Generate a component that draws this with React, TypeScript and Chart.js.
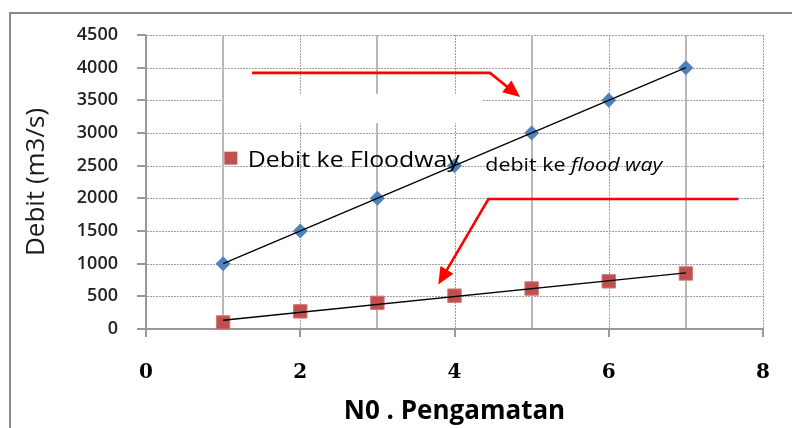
import React, { useEffect, useRef } from 'react';
import { Chart, registerables } from 'chart.js';

Chart.register(...registerables);

// ---------- data ----------
const observations = [1, 2, 3, 4, 5, 6, 7];
const debitTotal = [1000, 1500, 2000, 2500, 3000, 3500, 4000];
const debitFloodway = [100, 270, 400, 510, 620, 730, 850];
const seriesNames = ['Debit', 'Debit ke Floodway'];
const xTickValues = [0, 2, 4, 6, 8];
const xGridValues = [1, 2, 3, 4, 5, 6, 7, 8];
const yTickValues = [0, 500, 1000, 1500, 2000, 2500, 3000, 3500, 4000, 4500];
const xTitle = 'N0 . Pengamatan';
const yTitle = 'Debit (m3/s)';
const notePlain = 'debit ke ';
const noteItalic = 'flood way';

// annotations in data coordinates
const arrowUpper = [{ x: 1.375, y: 3920 }, { x: 4.46, y: 3920 }, { x: 4.85, y: 3550 }];
const arrowLower = [{ x: 7.68, y: 1990 }, { x: 4.44, y: 1990 }, { x: 3.79, y: 680 }];
const maskBox = { x0: 1.02, x1: 4.36, y0: 3150, y1: 3600 };
const legendAnchor = { x: 1.1, y: 2615, textX: 1.32, textY: 2480 };
const noteAnchor = { x: 4.4, y: 2420 };

// ---------- helpers ----------
function linearFit(xs: number[], ys: number[]) {
  const n = xs.length;
  const mx = xs.reduce((a, b) => a + b, 0) / n;
  const my = ys.reduce((a, b) => a + b, 0) / n;
  let sxy = 0;
  let sxx = 0;
  for (let i = 0; i < n; i++) {
    sxy += (xs[i] - mx) * (ys[i] - my);
    sxx += (xs[i] - mx) * (xs[i] - mx);
  }
  const slope = sxy / sxx;
  const icpt = my - slope * mx;
  const x0 = xs[0];
  const x1 = xs[n - 1];
  return [
    { x: x0, y: icpt + slope * x0 },
    { x: x1, y: icpt + slope * x1 },
  ];
}

function toPoints(xs: number[], ys: number[]) {
  return xs.map((x, i) => ({ x, y: ys[i] }));
}

const GRID = '#a0a0a0';
const SOLID_GRID = '#b8b8b8';
const AXIS = '#999999';
const RED_ARROW = '#ff0000';

function dottedH(ctx: CanvasRenderingContext2D, x0: number, x1: number, y: number) {
  for (let x = x0; x < x1; x += 3) ctx.fillRect(x, y, Math.min(2, x1 - x), 1);
}
function dottedV(ctx: CanvasRenderingContext2D, x: number, y0: number, y1: number) {
  for (let y = y0; y < y1; y += 3) ctx.fillRect(x, y, 1, Math.min(2, y1 - y));
}

const decorPlugin = {
  id: 'decor',
  beforeDraw(chart: any) {
    const ctx = chart.ctx;
    const xs = chart.scales.x;
    const ys = chart.scales.y;
    const ca = chart.chartArea;
    const left = Math.round(ca.left);
    const right = Math.round(ca.right);
    const top = Math.round(ca.top);
    const bottom = Math.round(ca.bottom);
    ctx.save();
    // outer frame
    ctx.fillStyle = '#888888';
    ctx.fillRect(9, 12, 800, 2);
    ctx.fillRect(9, 12, 2, 440);
    // horizontal dotted grid
    ctx.fillStyle = GRID;
    yTickValues.forEach((v) => {
      if (v === 0) return;
      const y = Math.round(ys.getPixelForValue(v));
      dottedH(ctx, left + 1, right + 1, y);
    });
    // vertical grid: odd solid, even dotted
    xGridValues.forEach((v) => {
      const x = Math.round(xs.getPixelForValue(v));
      if (v % 2 === 0) {
        ctx.fillStyle = GRID;
        dottedV(ctx, x, top, bottom);
      } else {
        ctx.fillStyle = SOLID_GRID;
        ctx.fillRect(x - 1, top, 2, bottom - top);
      }
    });
    // mask box (white text box covering grid)
    const mx0 = xs.getPixelForValue(maskBox.x0);
    const mx1 = xs.getPixelForValue(maskBox.x1);
    const my0 = ys.getPixelForValue(maskBox.y1);
    const my1 = ys.getPixelForValue(maskBox.y0);
    ctx.fillStyle = '#ffffff';
    ctx.fillRect(mx0, my0, mx1 - mx0, my1 - my0);
    // axes
    ctx.fillStyle = AXIS;
    ctx.fillRect(left - 1, top, 2, bottom - top + 1);
    ctx.fillRect(left - 1, bottom - 1, right - left + 2, 2);
    yTickValues.forEach((v) => {
      const y = Math.round(ys.getPixelForValue(v));
      ctx.fillRect(left - 9, y - 1, 9, 2);
    });
    xTickValues.forEach((v) => {
      const x = Math.round(xs.getPixelForValue(v));
      ctx.fillRect(x - 1, bottom, 2, 8);
    });
    ctx.restore();
  },
  afterDatasetsDraw(chart: any) {
    const ctx = chart.ctx;
    const xs = chart.scales.x;
    const ys = chart.scales.y;
    const X = (v: number) => xs.getPixelForValue(v);
    const Y = (v: number) => ys.getPixelForValue(v);
    ctx.save();
    // legend entry
    const sq = 13;
    ctx.fillStyle = '#c0504d';
    ctx.fillRect(X(legendAnchor.x) - sq / 2, Y(legendAnchor.y) - sq / 2, sq, sq);
    ctx.fillStyle = '#000000';
    ctx.textBaseline = 'alphabetic';
    ctx.font = '22px "Open Sans"';
    {
      const t = seriesNames[1];
      const w = ctx.measureText(t).width;
      ctx.save();
      ctx.translate(X(legendAnchor.textX), Y(legendAnchor.textY));
      ctx.scale(212 / w, 1);
      ctx.fillText(t, 0, 0);
      ctx.restore();
    }
    // note text
    {
      ctx.font = '19px "Open Sans"';
      const w1 = ctx.measureText(notePlain).width;
      ctx.font = 'italic 19px "Open Sans"';
      const w2 = ctx.measureText(noteItalic).width;
      const s = 177 / (w1 + w2);
      ctx.save();
      ctx.translate(X(noteAnchor.x), Y(noteAnchor.y));
      ctx.scale(s, 1);
      ctx.font = '19px "Open Sans"';
      ctx.fillText(notePlain, 0, 0);
      ctx.font = 'italic 19px "Open Sans"';
      ctx.fillText(noteItalic, w1, 0);
      ctx.restore();
    }
    // arrows
    const drawArrow = (pts: { x: number; y: number }[]) => {
      const p = pts.map((q) => ({ x: X(q.x), y: Y(q.y) }));
      const a = p[p.length - 2];
      const b = p[p.length - 1];
      const ang = Math.atan2(b.y - a.y, b.x - a.x);
      const hl = 17;
      const hw = 7.5;
      const base = { x: b.x - Math.cos(ang) * hl, y: b.y - Math.sin(ang) * hl };
      ctx.strokeStyle = RED_ARROW;
      ctx.fillStyle = RED_ARROW;
      ctx.lineWidth = 2.6;
      ctx.lineJoin = 'miter';
      ctx.setLineDash([]);
      ctx.beginPath();
      ctx.moveTo(p[0].x, p[0].y);
      for (let i = 1; i < p.length - 1; i++) ctx.lineTo(p[i].x, p[i].y);
      ctx.lineTo(base.x + Math.cos(ang) * 2, base.y + Math.sin(ang) * 2);
      ctx.stroke();
      ctx.beginPath();
      ctx.moveTo(b.x, b.y);
      ctx.lineTo(base.x + Math.sin(ang) * hw, base.y - Math.cos(ang) * hw);
      ctx.lineTo(base.x - Math.sin(ang) * hw, base.y + Math.cos(ang) * hw);
      ctx.closePath();
      ctx.fill();
    };
    drawArrow(arrowUpper);
    drawArrow(arrowLower);
    ctx.restore();
  },
};

export default function App() {
  const ref = useRef<HTMLCanvasElement | null>(null);
  useEffect(() => {
    if (!ref.current) return;
    const chart = new Chart(ref.current, {
      type: 'scatter',
      data: {
        datasets: [
          {
            label: 'trend ' + seriesNames[0],
            data: linearFit(observations, debitTotal),
            showLine: true,
            borderColor: '#000000',
            borderWidth: 1.3,
            pointRadius: 0,
            order: 0,
          },
          {
            label: 'trend ' + seriesNames[1],
            data: linearFit(observations, debitFloodway),
            showLine: true,
            borderColor: '#000000',
            borderWidth: 1.3,
            pointRadius: 0,
            order: 0,
          },
          {
            label: seriesNames[0],
            data: toPoints(observations, debitTotal),
            pointStyle: 'rectRot',
            pointRadius: 7.5,
            backgroundColor: '#4f81bd',
            borderColor: '#4f81bd',
            borderWidth: 0,
            order: 1,
          },
          {
            label: seriesNames[1],
            data: toPoints(observations, debitFloodway),
            pointStyle: 'rect',
            pointRadius: 9.5,
            backgroundColor: '#c0504d',
            borderColor: '#d27a78',
            borderWidth: 1,
            order: 1,
          },
        ],
      },
      options: {
        responsive: false,
        maintainAspectRatio: false,
        devicePixelRatio: 1,
        animation: false,
        events: [],
        layout: { padding: { left: 0, top: 35, right: 29, bottom: 0 } },
        plugins: {
          legend: { display: false },
          tooltip: { enabled: false },
        },
        scales: {
          x: {
            type: 'linear',
            min: 0,
            max: 8,
            afterBuildTicks: (scale: any) => {
              scale.ticks = xTickValues.map((v) => ({ value: v }));
            },
            afterFit: (scale: any) => {
              scale.height = 99;
              scale.paddingLeft = 0;
              scale.paddingRight = 0;
            },
            grid: { display: false, drawTicks: false, tickLength: 0 },
            border: { display: false },
            ticks: {
              padding: 32,
              color: '#000000',
              font: { family: '"DejaVu Serif"', size: 20, weight: 'bold' },
              maxRotation: 0,
              callback: (v: any) => String(v),
            },
            title: {
              display: true,
              text: xTitle,
              color: '#000000',
              font: { family: '"Open Sans"', size: 26, weight: 'bold', lineHeight: 1 },
              padding: { top: 0, bottom: 3 },
            },
          },
          y: {
            type: 'linear',
            min: 0,
            max: 4500,
            afterBuildTicks: (scale: any) => {
              scale.ticks = yTickValues.map((v) => ({ value: v }));
            },
            afterFit: (scale: any) => {
              scale.width = 146;
              scale.paddingTop = 0;
              scale.paddingBottom = 0;
            },
            grid: { display: false, drawTicks: false, tickLength: 0 },
            border: { display: false },
            ticks: {
              padding: 28,
              color: '#222222',
              font: { family: '"Open Sans"', size: 18, weight: '600' },
              callback: (v: any) => String(v),
            },
            title: {
              display: true,
              text: yTitle,
              color: '#1a1a1a',
              font: { family: '"Open Sans"', size: 26, weight: 'normal', lineHeight: 1 },
              padding: { top: 24, bottom: 0 },
            },
          },
        },
      },
      plugins: [decorPlugin],
    });
    return () => chart.destroy();
  }, []);
  return (
    <div style={{ position: 'fixed', left: 0, top: 0, width: 792, height: 428, background: '#ffffff' }}>
      <canvas ref={ref} width={792} height={428} style={{ width: 792, height: 428, display: 'block' }} />
    </div>
  );
}
